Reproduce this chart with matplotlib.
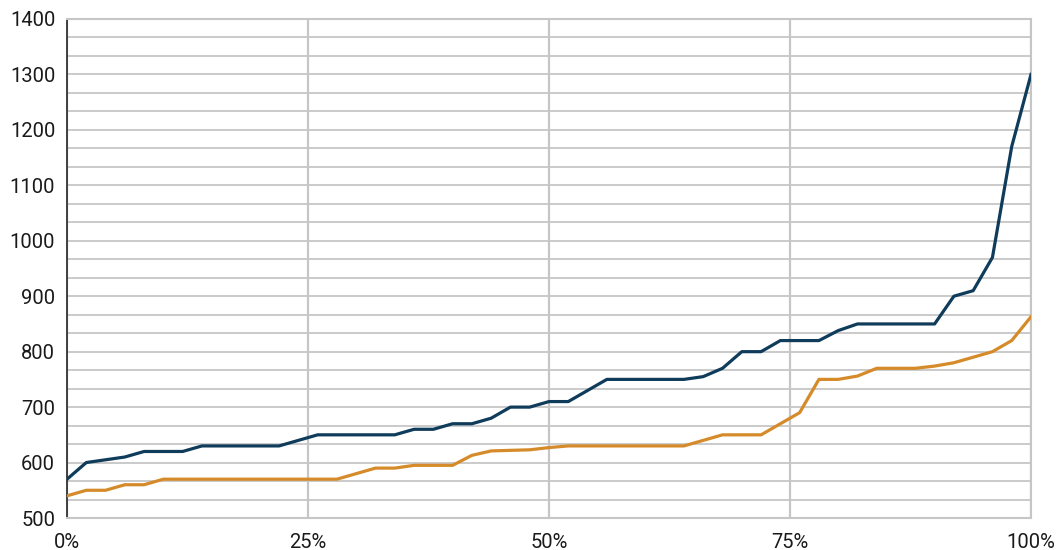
import matplotlib.pyplot as plt
import numpy as np
from matplotlib.ticker import MultipleLocator, PercentFormatter

# Percentiles (every 2%) and the two series
percentiles = list(range(0, 101, 2))

series_blue = [570, 600, 605, 610, 620, 620, 620, 630, 630, 630,
               630, 630, 640, 650, 650, 650, 650, 650, 660, 660,
               670, 670, 680, 700, 700, 710, 710, 730, 750, 750,
               750, 750, 750, 755, 770, 800, 800, 820, 820, 820,
               838, 850, 850, 850, 850, 850, 900, 910, 970, 1170,
               1300]

series_orange = [540, 550, 550, 560, 560, 570, 570, 570, 570, 570,
                 570, 570, 570, 570, 570, 580, 590, 590, 595, 595,
                 595, 613, 621, 622, 623, 627, 630, 630, 630, 630,
                 630, 630, 630, 640, 650, 650, 650, 670, 690, 750,
                 750, 756, 770, 770, 770, 774, 780, 790, 800, 820,
                 863]

plt.rcParams['font.family'] = ['Roboto', 'DejaVu Sans']

fig = plt.figure(figsize=(10.58, 5.5), dpi=100)
ax = fig.add_axes([67 / 1058, 1 - 518 / 550, 964 / 1058, 499 / 550])

grid_col = '#c6c6c6'
ax.plot(percentiles, series_orange, color='#d68b2a', lw=2.3, zorder=3, solid_joinstyle='round')
ax.plot(percentiles, series_blue, color='#0f3c5b', lw=2.3, zorder=4, solid_joinstyle='round')

ax.set_xlim(0, 100)
ax.set_ylim(500, 1400)
ax.xaxis.set_major_locator(MultipleLocator(25))
ax.xaxis.set_major_formatter(PercentFormatter(decimals=0))
ax.yaxis.set_major_locator(MultipleLocator(100))
ax.yaxis.set_minor_locator(MultipleLocator(100 / 3))

ax.grid(axis='x', which='major', color=grid_col, lw=1.6)
ax.grid(axis='y', which='both', color=grid_col, lw=1.3)
ax.set_axisbelow(True)

for side in ['top', 'right', 'bottom']:
    ax.spines[side].set_color(grid_col)
    ax.spines[side].set_linewidth(1.5)
ax.spines['left'].set_color('#333333')
ax.spines['left'].set_linewidth(1.3)

ax.tick_params(axis='both', which='both', length=0, labelsize=14.5, colors='#1a1a1a')
ax.tick_params(axis='y', pad=8.5)
ax.tick_params(axis='x', pad=11)

fig.savefig('out.png', dpi=100)
